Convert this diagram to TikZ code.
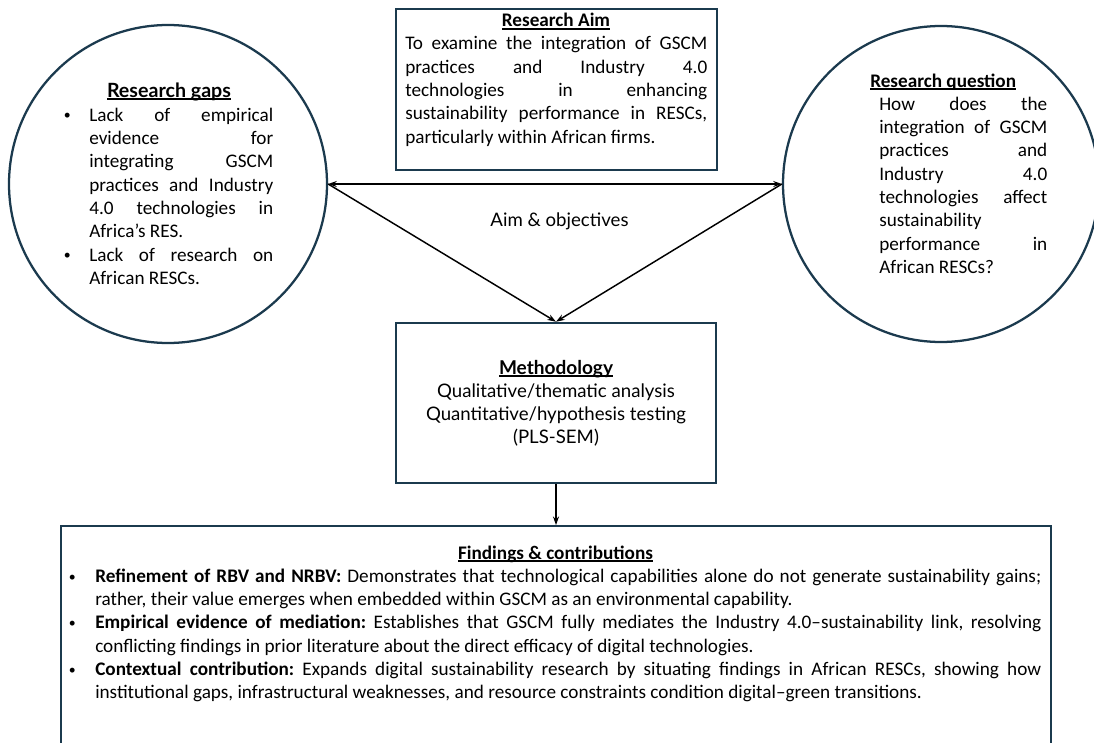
\documentclass[tikz,border=0pt]{standalone}
\usepackage{fontspec}
\setmainfont{Carlito}
\newfontfamily\aptos{Lato}
\usetikzlibrary{arrows.meta}
\definecolor{frame}{HTML}{1B3A4E}
\newlength\refw
% sizes of the sans face, set from the widths the lines should take
\AtBeginDocument{%
  \settowidth\refw{\aptos\fontsize{10pt}{12pt}\selectfont Quantitative/hypothesis testing}%
  \pgfmathsetmacro\aptossize{10*195/\refw}%
  \settowidth\refw{\aptos\bfseries\fontsize{10pt}{12pt}\selectfont Research gaps}%
  \pgfmathsetmacro\gapssize{10*93/\refw}%
  \settowidth\refw{\aptos\bfseries\fontsize{10pt}{12pt}\selectfont Methodology}%
  \pgfmathsetmacro\methsize{10*85.5/\refw}}
% underline drawn close under the baseline, crossing descenders
\newcommand\headul[1]{\setbox0=\hbox{#1}\rlap{\rule[-1.9pt]{\wd0}{0.9pt}}\box0}
% small bullet hung to the left of a list paragraph
\newcommand\bulat[1]{\noindent\llap{\makebox[0pt]{\raisebox{0.9pt}{\scalebox{0.72}{\textbullet}}}\hspace{#1}}}

\begin{document}
\begin{tikzpicture}[x=0.75pt,y=-0.75pt,
  ring/.style={circle, draw=frame, line width=1.7pt, inner sep=0pt},
  panel/.style={rectangle, draw=frame, line width=1.9pt, inner sep=0pt},
  body/.style={inner sep=0pt, anchor=base west, align=justify,
    font=\fontsize{14.4pt}{17.5pt}\selectfont\frenchspacing},
  head/.style={inner sep=0pt, anchor=base,
    font=\fontsize{14.4pt}{17.5pt}\selectfont\bfseries},
  sanstext/.style={inner sep=0pt, anchor=base,
    font=\aptos\fontsize{\aptossize pt}{17.5pt}\selectfont},
  arr/.style={draw=black, line width=1.1pt, -{Stealth[length=6.5pt,width=4.5pt]}},
  arrboth/.style={draw=black, line width=1.1pt,
    {Stealth[length=6.5pt,width=4.5pt]}-{Stealth[length=6.5pt,width=4.5pt]}},
]
\tolerance=10000 \hbadness=10000

\useasboundingbox (0,0) rectangle (1094,742);
\fill[white] (0,0) rectangle (1094,742);
\clip (0,0) rectangle (1094,742);

% frames
\node[ring, minimum size=238.5pt] (gaps) at (168,184) {};
\node[ring, minimum size=237pt] (quest) at (941,184) {};
\node[panel, minimum width=240.75pt, minimum height=120.75pt] (aim) at (556.5,89.5) {};
\node[panel, minimum width=240pt, minimum height=120pt] (meth) at (556,403) {};
\node[panel, line width=1.3pt, minimum width=742.5pt, minimum height=175.5pt] (find) at (556,643) {};

% research gaps
\node[inner sep=0pt, anchor=base, font=\aptos\bfseries\fontsize{\gapssize pt}{17.5pt}\selectfont]
  (gapshead) at (169,97) {\headul{Research gaps}};
\node[body, text width=138pt] (gapstext) at (89,121)
  {\bulat{16.5pt}Lack of empirical\linebreak evidence for\linebreak integrating GSCM\linebreak
   practices and Industry\linebreak 4.0 technologies in\linebreak Africa’s RES.\par
   \bulat{16.5pt}Lack of research on\linebreak African RESCs.};

% research question
\node[head, anchor=base west] (questhead) at (870,87) {\headul{Research question}};
\node[body, text width=126pt] (questtext) at (879,110)
  {How does the\linebreak integration of GSCM\linebreak practices and\linebreak Industry 4.0\linebreak
   technologies affect\linebreak sustainability\linebreak performance in\linebreak African RESCs?};

% research aim
\node[head] (aimhead) at (556,27) {\headul{Research Aim}};
\node[body, text width=226.5pt] (aimtext) at (405,50)
  {To examine the integration of GSCM\linebreak practices and Industry 4.0\linebreak
   technologies in enhancing\linebreak sustainability performance in RESCs,\linebreak
   particularly within African firms.};

% methodology
\node[inner sep=0pt, anchor=base, font=\aptos\bfseries\fontsize{\methsize pt}{17.5pt}\selectfont]
  (methhead) at (556,374) {\headul{Methodology}};
\node[sanstext] (methl1) at (556,397) {Qualitative/thematic analysis};
\node[sanstext] (methl2) at (556,420) {Quantitative/hypothesis testing};
\node[sanstext] (methl3) at (556,443) {(PLS-SEM)};

\node[sanstext] (aimobj) at (559.5,226) {Aim \& objectives};

% findings
\node[head] (findhead) at (555.5,559) {\headul{Findings \& contributions}};
\node[body, text width=709.5pt] (findtext) at (95,582.3)
  {\bulat{17.25pt}\textbf{Refinement of RBV and NRBV:} Demonstrates that technological capabilities alone do not generate sustainability gains;\linebreak
   rather, their value emerges when embedded within GSCM as an environmental capability.\par
   \bulat{17.25pt}\textbf{Empirical evidence of mediation:} Establishes that GSCM fully mediates the Industry 4.0–sustainability link, resolving\linebreak
   conflicting findings in prior literature about the direct efficacy of digital technologies.\par
   \bulat{17.25pt}\textbf{Contextual contribution:} Expands digital sustainability research by situating findings in African RESCs, showing how\linebreak
   institutional gaps, infrastructural weaknesses, and resource constraints condition digital–green transitions.};

% connectors
\draw[arrboth] (gaps.east) -- (quest.west);
\draw[arr] (gaps.east) -- (meth.north);
\draw[arr] (quest.west) -- (meth.north);
\draw[arr] (meth.south) -- (meth.south |- find.north);
\end{tikzpicture}
\end{document}
